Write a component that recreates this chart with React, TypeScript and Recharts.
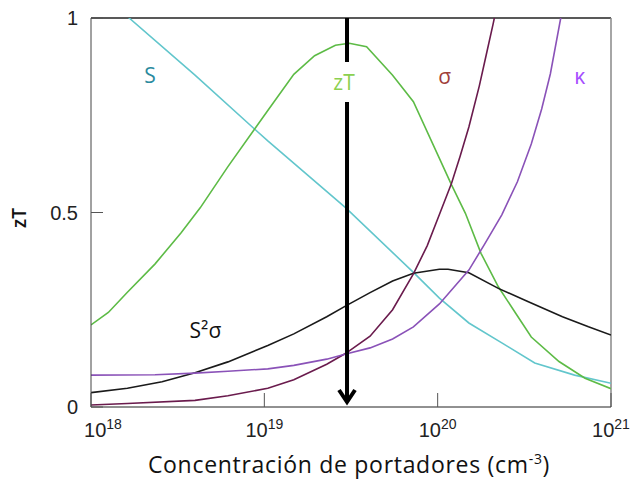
import { LineChart, Line, XAxis, YAxis, ReferenceLine, ReferenceDot } from "recharts";

// x values are log10 of carrier concentration (cm^-3)
const DECADES = [18, 19, 20, 21];
const Y_TICKS = [0, 0.5, 1];

const S_X = [18.0, 18.22, 18.6, 18.94, 19.02, 19.47, 19.86, 20.01, 20.18, 20.37, 20.56, 20.79, 21.0];
const S_Y = [1.09, 1.0, 0.853, 0.716, 0.684, 0.512, 0.346, 0.28, 0.216, 0.165, 0.113, 0.082, 0.061];

const ZT_X = [18.0, 18.1, 18.21, 18.37, 18.52, 18.63, 18.79, 18.94, 19.02, 19.17, 19.29, 19.41, 19.49, 19.59, 19.74, 19.86, 20.01, 20.08, 20.16, 20.25, 20.35, 20.45, 20.54, 20.7, 20.85, 21.0];
const ZT_Y = [0.211, 0.243, 0.295, 0.368, 0.448, 0.512, 0.618, 0.712, 0.762, 0.855, 0.903, 0.93, 0.935, 0.926, 0.853, 0.785, 0.639, 0.571, 0.498, 0.395, 0.309, 0.241, 0.18, 0.117, 0.074, 0.047];

const PF_X = [18.0, 18.21, 18.41, 18.6, 18.79, 19.02, 19.17, 19.36, 19.47, 19.61, 19.74, 19.86, 20.01, 20.06, 20.18, 20.35, 20.52, 20.72, 20.87, 21.0];
const PF_Y = [0.037, 0.048, 0.065, 0.088, 0.116, 0.158, 0.188, 0.232, 0.26, 0.294, 0.324, 0.344, 0.354, 0.354, 0.345, 0.305, 0.271, 0.232, 0.206, 0.185];

const SIGMA_X = [18.0, 18.21, 18.6, 18.79, 19.02, 19.17, 19.36, 19.47, 19.61, 19.74, 19.86, 19.94, 20.01, 20.08, 20.13, 20.18, 20.24, 20.28, 20.32, 20.36];
const SIGMA_Y = [0.005, 0.009, 0.017, 0.029, 0.048, 0.07, 0.11, 0.138, 0.182, 0.25, 0.342, 0.415, 0.495, 0.575, 0.645, 0.72, 0.825, 0.905, 0.985, 1.07];

const KAPPA_X = [18.0, 18.37, 18.6, 18.79, 19.02, 19.17, 19.36, 19.47, 19.61, 19.74, 19.86, 20.01, 20.18, 20.27, 20.37, 20.46, 20.54, 20.6, 20.65, 20.71, 20.76];
const KAPPA_Y = [0.082, 0.083, 0.087, 0.092, 0.098, 0.107, 0.123, 0.136, 0.152, 0.175, 0.206, 0.265, 0.352, 0.418, 0.494, 0.579, 0.676, 0.766, 0.856, 1.0, 1.1];

const ARROW_AT = 19.477; // 3e19 cm^-3

const toPoints = (xs: number[], ys: number[]) => xs.map((x, i) => ({ x, v: ys[i] }));

const SERIES = [
  { name: "S", points: toPoints(S_X, S_Y), color: "#62c6cc" },
  { name: "zT", points: toPoints(ZT_X, ZT_Y), color: "#5dbb46" },
  { name: "S2sigma", points: toPoints(PF_X, PF_Y), color: "#1a1a1a" },
  { name: "sigma", points: toPoints(SIGMA_X, SIGMA_Y), color: "#6a1b4d" },
  { name: "kappa", points: toPoints(KAPPA_X, KAPPA_Y), color: "#8a52b8" },
];

const LABELS = [
  { text: "S", x: 18.34, y: 0.853, color: "#2b8a9e" },
  { text: "zT", x: 19.46, y: 0.835, color: "#8cd050" },
  { text: "σ", x: 20.04, y: 0.851, color: "#a0403a" },
  { text: "κ", x: 20.82, y: 0.85, color: "#a64dff" },
  { text: "S²σ", x: 18.66, y: 0.198, color: "#111" },
];

const SANS = "Open Sans, Noto Sans, sans-serif";
const ARIAL = "Liberation Sans, Arial, sans-serif";

function PowerTick(props: any) {
  const { x, y, payload, index } = props;
  const shift = index === 0 ? 12 : 0;
  return (
    <text x={x + shift} y={y + 30} textAnchor="middle" fontFamily={ARIAL} fontSize={20} fill="#222">
      <tspan>10</tspan>
      <tspan fontSize={14} dy={-8}>{payload.value}</tspan>
    </text>
  );
}

function Arrow(props: any) {
  const x = props.x1;
  const top = Math.min(props.y1, props.y2);
  const bottom = Math.max(props.y1, props.y2);
  const tip = bottom - 5;
  return (
    <g stroke="#000" strokeWidth={4} fill="none">
      <line x1={x} y1={top} x2={x} y2={top + 44} />
      <line x1={x} y1={top + 84} x2={x} y2={tip} />
      <polyline points={`${x - 8},${tip - 12} ${x},${tip} ${x + 8},${tip - 12}`} />
    </g>
  );
}

export default function App() {
  return (
    <div style={{ position: "absolute", left: 0, top: 0, background: "#fff" }}>
      <LineChart width={635} height={481} margin={{ top: 18, right: 24, bottom: 0, left: 0 }}>
        <XAxis
          type="number"
          dataKey="x"
          domain={[18, 21]}
          ticks={DECADES}
          allowDataOverflow
          height={74}
          tickSize={-14}
          tickMargin={14}
          tick={<PowerTick />}
          axisLine={{ stroke: "#222" }}
          tickLine={{ stroke: "#555" }}
          label={{
            content: () => (
              <text
                x={349}
                y={473}
                textAnchor="middle"
                fontFamily={SANS}
                fontSize={23}
                letterSpacing={0.7}
                fill="#111"
              >
                Concentración de portadores (cm
                <tspan fontSize={14} dy={-9}>-3</tspan>
                <tspan dy={9}>)</tspan>
              </text>
            ),
          }}
        />
        <YAxis
          type="number"
          domain={[0, 1]}
          ticks={Y_TICKS}
          allowDataOverflow
          width={91}
          tickSize={-12}
          tickMargin={25}
          tickFormatter={(v: number) => String(v)}
          tick={{ fill: "#222", fontSize: 20, fontFamily: ARIAL }}
          axisLine={{ stroke: "#444" }}
          tickLine={{ stroke: "#555" }}
          label={{
            content: () => (
              <text
                x={19}
                y={218}
                transform="rotate(-90 19 218)"
                textAnchor="middle"
                dominantBaseline="central"
                fontFamily={SANS}
                fontSize={19}
                fontWeight={600}
                fill="#111"
              >
                zT
              </text>
            ),
          }}
        />
        <ReferenceLine y={1} stroke="#222" strokeWidth={1.5} />
        <ReferenceLine x={21} stroke="#888" strokeWidth={1.5} />
        {SERIES.map((s) => (
          <Line
            key={s.name}
            data={s.points}
            dataKey="v"
            type="linear"
            stroke={s.color}
            strokeWidth={1.6}
            dot={false}
            isAnimationActive={false}
          />
        ))}
        <ReferenceLine x={ARROW_AT} shape={<Arrow />} />
        {LABELS.map((l) => (
          <ReferenceDot
            key={l.text}
            x={l.x}
            y={l.y}
            r={0}
            shape={(p: any) => (
              <text
                x={p.cx}
                y={p.cy}
                textAnchor="middle"
                dominantBaseline="central"
                fontFamily={SANS}
                fontSize={21}
                fill={l.color}
              >
                {l.text}
              </text>
            )}
          />
        ))}
      </LineChart>
    </div>
  );
}
